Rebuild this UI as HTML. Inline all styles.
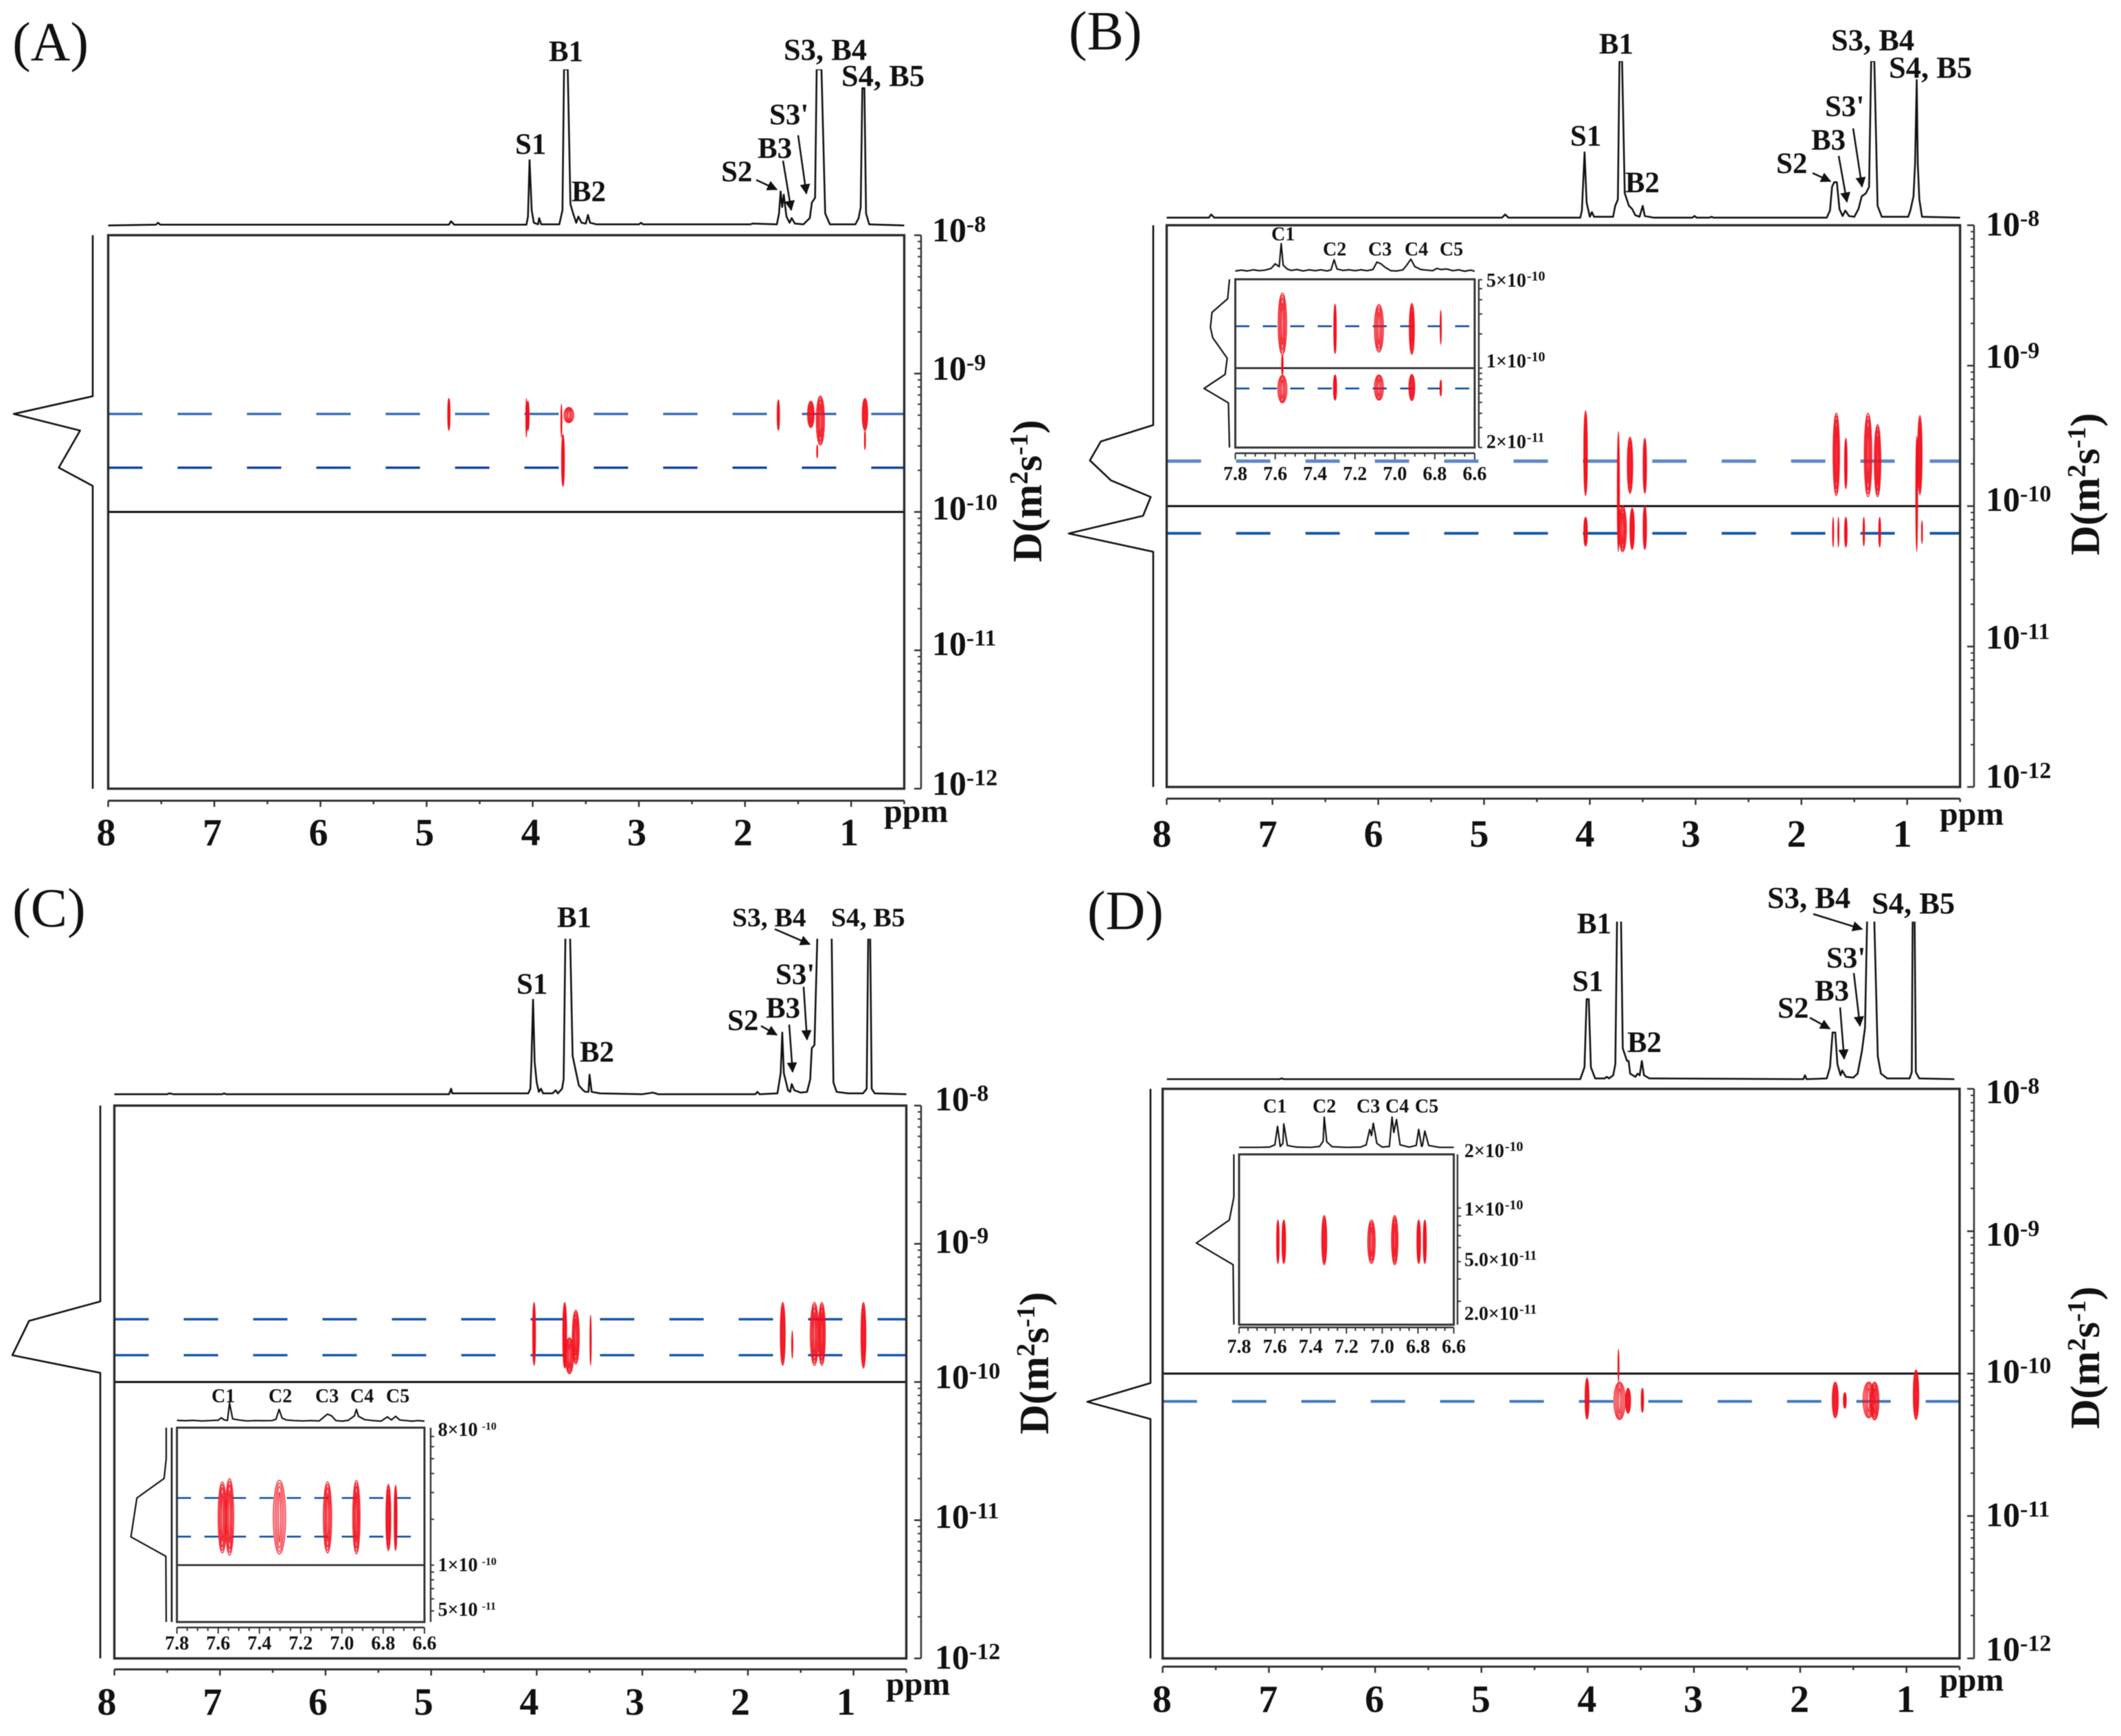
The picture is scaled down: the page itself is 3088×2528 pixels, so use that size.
<!DOCTYPE html>
<html lang="en">
<head>
<meta charset="utf-8">
<title>DOSY NMR spectra panels A-D</title>
<style>
html,body{margin:0;padding:0;background:#fff;width:3088px;height:2528px;overflow:hidden}
svg{display:block;filter:blur(.6px)}
text{font-family:"Liberation Serif",serif;fill:#111}
.pk{font-weight:bold;font-size:43px}
.pw{font-weight:bold;font-size:44.5px}
.pn{font-size:80px}
.ar{stroke:#111;stroke-width:2.5;fill:none;marker-end:url(#arrowhead)}
</style>
</head>
<body>
<svg id="chart" xmlns="http://www.w3.org/2000/svg" width="3088" height="2528" viewBox="0 0 3088 2528">
<defs>
<marker id="arrowhead" markerWidth="7" markerHeight="7" refX="5.5" refY="3" orient="auto" markerUnits="strokeWidth"><path d="M0,0 L6,3 L0,6 Z" fill="#111"/></marker>
</defs>
<rect width="3088" height="2528" fill="#fff"/>

<g>
<text class="pn" x="18" y="88">(A)</text>
<text class="pk" x="750" y="224">S1</text>
<text class="pk" x="799" y="89">B1</text>
<text class="pk" x="832" y="293">B2</text>
<text class="pk" x="1050" y="264">S2</text>
<text class="pk" x="1103" y="230">B3</text>
<text class="pk" x="1120" y="181">S3'</text>
<text class="pw" x="1141" y="87">S3, B4</text>
<text class="pw" x="1225" y="125">S4, B5</text>
<line class="ar" x1="1101" y1="262" x2="1131" y2="276"/>
<line class="ar" x1="1140" y1="234" x2="1152" y2="306"/>
<line class="ar" x1="1162" y1="197" x2="1174" y2="282"/>
</g>

<g>
<text class="pn" x="1556" y="72">(B)</text>
<text class="pk" x="2286" y="212">S1</text>
<text class="pk" x="2328" y="78">B1</text>
<text class="pk" x="2366" y="280">B2</text>
<text class="pk" x="2586" y="252">S2</text>
<text class="pk" x="2637" y="218">B3</text>
<text class="pk" x="2657" y="169">S3'</text>
<text class="pw" x="2666" y="73">S3, B4</text>
<text class="pw" x="2750" y="113">S4, B5</text>
<line class="ar" x1="2639" y1="252" x2="2665" y2="264"/>
<line class="ar" x1="2677" y1="227" x2="2689" y2="294"/>
<line class="ar" x1="2698" y1="187" x2="2711" y2="272"/>
<text class="pk" style="font-size:28px" x="1851" y="350">C1</text>
<text class="pk" style="font-size:28px" x="1926" y="372">C2</text>
<text class="pk" style="font-size:28px" x="1992" y="372">C3</text>
<text class="pk" style="font-size:28px" x="2045" y="372">C4</text>
<text class="pk" style="font-size:28px" x="2096" y="372">C5</text>
</g>

<g>
<text class="pn" x="18" y="1349">(C)</text>
<text class="pk" x="752" y="1447">S1</text>
<text class="pk" x="811" y="1350">B1</text>
<text class="pk" x="844" y="1546">B2</text>
<text class="pk" x="1059" y="1500">S2</text>
<text class="pk" x="1115" y="1482">B3</text>
<text class="pk" x="1129" y="1433">S3'</text>
<text class="pk" style="font-size:39.5px" x="1066" y="1349">S3, B4</text>
<text class="pk" style="font-size:39.5px" x="1210" y="1349">S4, B5</text>
<line class="ar" x1="1108" y1="1494" x2="1131" y2="1507"/>
<line class="ar" x1="1149" y1="1492" x2="1154" y2="1561"/>
<line class="ar" x1="1170" y1="1437" x2="1175" y2="1514"/>
<line class="ar" x1="1128" y1="1353" x2="1179" y2="1375"/>
<text class="pk" style="font-size:28px" x="308" y="2042">C1</text>
<text class="pk" style="font-size:28px" x="391" y="2042">C2</text>
<text class="pk" style="font-size:28px" x="459" y="2042">C3</text>
<text class="pk" style="font-size:28px" x="510" y="2042">C4</text>
<text class="pk" style="font-size:28px" x="562" y="2042">C5</text>
</g>

<g>
<text class="pn" x="1583" y="1353">(D)</text>
<text class="pk" x="2289" y="1443">S1</text>
<text class="pk" x="2296" y="1359">B1</text>
<text class="pk" x="2369" y="1532">B2</text>
<text class="pk" x="2588" y="1482">S2</text>
<text class="pk" x="2642" y="1457">B3</text>
<text class="pk" x="2659" y="1409">S3'</text>
<text class="pw" x="2573" y="1322">S3, B4</text>
<text class="pw" x="2725" y="1330">S4, B5</text>
<line class="ar" x1="2635" y1="1482" x2="2664" y2="1498"/>
<line class="ar" x1="2679" y1="1467" x2="2685" y2="1542"/>
<line class="ar" x1="2699" y1="1417" x2="2708" y2="1494"/>
<line class="ar" x1="2640" y1="1331" x2="2711" y2="1353"/>
<text class="pk" style="font-size:28px" x="1839" y="1620">C1</text>
<text class="pk" style="font-size:28px" x="1911" y="1620">C2</text>
<text class="pk" style="font-size:28px" x="1975" y="1620">C3</text>
<text class="pk" style="font-size:28px" x="2017" y="1620">C4</text>
<text class="pk" style="font-size:28px" x="2060" y="1620">C5</text>
</g>
</svg>

<script>
/* Shared axis data */
const ppmTickLabels = [8, 7, 6, 5, 4, 3, 2, 1];
const diffusionExponents = [-8, -9, -10, -11, -12];
const insetPpmLabels = [7.8, 7.6, 7.4, 7.2, 7.0, 6.8, 6.6];

/* 1D spectra: [ppm, relative intensity] */
const spectrumA = [[8,.3],[7.55,.8],[7.53,2],[7.51,.8],[4.79,.8],[4.77,3],[4.74,.8],[4.06,.8],[4.045,6],[4.03,42],[4.01,10],[3.99,2],[3.95,1],[3.94,5],[3.92,1],[3.75,1],[3.72,10],[3.705,100],[3.67,100],[3.645,14],[3.62,8],[3.59,2],[3.57,6],[3.54,2],[3.5,1.5],[3.48,7],[3.46,2],[3.4,1],[3,1],[2.98,2],[2.96,1],[1.95,1],[1.93,1.5],[1.7,1],[1.68,8],[1.665,22],[1.65,12],[1.635,20],[1.61,6],[1.58,2],[1.56,5],[1.53,1.5],[1.45,1],[1.39,5],[1.37,15],[1.34,18],[1.325,100],[1.28,100],[1.245,8],[1.2,1],[.96,1],[.93,5],[.91,12],[.895,88],[.875,88],[.86,8],[.83,1],[.5,.3]];
const spectrumB = [[8,.5],[7.6,.5],[7.58,2.5],[7.55,.5],[4.83,.5],[4.8,2.5],[4.77,.5],[4.09,.5],[4.075,5],[4.05,42],[4.03,10],[4,1],[3.98,4],[3.96,1],[3.78,1],[3.76,8],[3.735,12],[3.72,100],[3.695,100],[3.67,16],[3.63,8],[3.6,6],[3.57,2],[3.53,1],[3.5,8],[3.48,1.5],[3.4,.5],[3.03,.5],[3.01,1.5],[2.99,.5],[2.87,.5],[2.85,1],[2.83,.5],[1.76,.5],[1.73,5],[1.71,20],[1.69,23],[1.665,23],[1.64,6],[1.61,1.5],[1.585,5],[1.55,1.5],[1.5,1],[1.46,6],[1.43,14],[1.39,16],[1.36,20],[1.34,100],[1.31,100],[1.28,8],[1.24,1],[.99,1],[.97,5],[.94,14],[.925,35],[.91,88],[.9,35],[.885,12],[.86,1],[.5,.5]];
const spectrumC = [[8,.5],[7.5,.5],[7.48,1],[7.44,.5],[6.98,.5],[6.96,1],[6.94,.5],[4.83,.5],[4.81,4],[4.8,1],[4.08,1],[4.06,4],[4.05,21],[4.035,61],[4.02,21],[4,8],[3.98,2],[3.96,4],[3.94,1],[3.85,1],[3.82,3],[3.8,1],[3.76,4],[3.745,10],[3.725,120],[3.69,120],[3.66,25],[3.62,12],[3.6,6],[3.56,3],[3.54,2],[3.51,2],[3.5,13],[3.48,2],[3.4,1],[3,.5],[2.9,1.5],[2.85,.5],[1.93,.5],[1.91,2],[1.89,.5],[1.72,1],[1.69,14],[1.675,40],[1.66,14],[1.62,3],[1.6,2],[1.585,7],[1.56,3],[1.5,1.5],[1.44,2],[1.41,10],[1.395,30],[1.37,32],[1.335,120],[1.27,140],[1.21,120],[1.19,8],[1.16,2],[1.05,1],[.91,1],[.875,4],[.858,120],[.845,120],[.828,4],[.8,1],[.5,.5]];
const spectrumD = [[7.96,.5],[6.9,.5],[6.88,1],[6.86,.5],[4.07,.5],[4.03,8],[4.01,51],[3.99,51],[3.97,8],[3.93,1],[3.84,1],[3.82,2],[3.8,1],[3.76,3],[3.74,10],[3.72,120],[3.705,140],[3.69,120],[3.67,20],[3.63,12],[3.615,12],[3.6,4],[3.55,2],[3.53,4],[3.51,3],[3.49,12],[3.47,3],[3.42,1],[1.97,.5],[1.955,3],[1.94,.5],[1.75,1],[1.72,8],[1.695,30],[1.67,30],[1.65,10],[1.62,3],[1.605,6],[1.57,2],[1.5,1.5],[1.46,4],[1.42,18],[1.39,33],[1.365,120],[1.335,140],[1.31,120],[1.27,15],[1.24,4],[1.18,1],[.97,1],[.95,5],[.94,120],[.925,120],[.912,5],[.88,1],[.55,.5]];

/* Diffusion projections: [log10 D, relative intensity] */
const projectionA = [[-8,0],[-9.164,0],[-9.292,100],[-9.412,16],[-9.68,43],[-9.812,0],[-12,0]];
const projectionB = [[-8,0],[-9.423,0],[-9.54,62],[-9.675,75],[-9.817,50],[-9.935,3],[-10.069,12],[-10.195,100],[-10.325,0],[-12,0]];
const projectionC = [[-8,0],[-9.417,0],[-9.558,81],[-9.806,100],[-9.934,0],[-12,0]];
const projectionD = [[-8,0],[-10.066,0],[-10.198,100],[-10.319,0],[-12,0]];

/* Dashed guide lines: log10 D */
const guidesA = [-9.292, -9.68];
const guidesB = [-9.68, -10.194];
const guidesC = [-9.546, -9.806];
const guidesD = [-10.195];

/* Cross peaks: [ppm, log10 D upper, log10 D lower, width in ppm] */
const peaksA = [[4.79,-9.179,-9.41,.03],[4.06,-9.18,-9.46,.016],[4.045,-9.2,-9.41,.03],[3.73,-9.22,-9.46,.012],[3.66,-9.245,-9.355,.1],[3.715,-9.44,-9.815,.035],[1.686,-9.19,-9.41,.03],[1.38,-9.2,-9.39,.07],[1.29,-9.162,-9.517,.085],[1.32,-9.517,-9.61,.012],[.87,-9.18,-9.41,.06],[.87,-9.41,-9.55,.012]];
const peaksB = [[4.04,-9.322,-9.925,.042],[4.04,-10.08,-10.284,.042],[3.73,-9.469,-10.324,.028],[3.69,-9.998,-10.324,.08],[3.62,-9.509,-9.909,.06],[3.6,-10.015,-10.308,.05],[3.48,-9.517,-9.909,.04],[3.48,-9.998,-10.308,.04],[1.67,-9.338,-9.925,.07],[1.58,-9.517,-9.876,.032],[1.37,-9.338,-9.933,.08],[1.28,-9.42,-9.933,.07],[.88,-9.355,-9.917,.05],[.91,-9.501,-10.324,.025],[1.7,-10.08,-10.292,.012],[1.65,-10.08,-10.292,.012],[1.58,-10.08,-10.292,.032],[1.41,-10.08,-10.284,.022],[1.26,-10.08,-10.292,.026],[.86,-10.104,-10.267,.01]];
const peaksC = [[4.025,-9.425,-9.879,.035],[3.735,-9.425,-9.9,.045],[3.69,-9.68,-9.94,.085],[3.63,-9.48,-9.87,.075],[3.49,-9.516,-9.88,.02],[1.67,-9.425,-9.879,.055],[1.58,-9.63,-9.83,.015],[1.37,-9.425,-9.879,.087],[1.3,-9.425,-9.879,.075],[.906,-9.425,-9.9,.055]];
const peaksD = [[4.006,-10.031,-10.32,.045],[3.71,-9.83,-10.06,.012],[3.7,-10.06,-10.322,.115],[3.62,-10.103,-10.278,.057],[3.485,-10.103,-10.272,.03],[1.67,-10.06,-10.31,.065],[1.58,-10.134,-10.243,.035],[1.355,-10.06,-10.31,.115],[1.3,-10.06,-10.325,.09],[.91,-9.974,-10.322,.06]];

/* Inset data */
const insetSpectrumB = [[7.8,5],[7.77,8],[7.74,5],[7.71,9],[7.68,6],[7.65,8],[7.62,14],[7.6,30],[7.58,20],[7.57,100],[7.56,25],[7.54,12],[7.52,7],[7.49,10],[7.46,5],[7.43,9],[7.4,6],[7.37,9],[7.34,5],[7.32,9],[7.305,44],[7.29,12],[7.26,7],[7.23,9],[7.2,6],[7.17,9],[7.14,6],[7.11,10],[7.09,36],[7.07,30],[7.05,18],[7.02,6],[6.99,5],[6.96,9],[6.94,26],[6.92,46],[6.9,20],[6.87,10],[6.84,8],[6.81,6],[6.79,14],[6.77,10],[6.74,12],[6.71,6],[6.68,9],[6.65,4],[6.62,8],[6.6,4]];
const insetSpectrumC = [[7.8,6],[7.76,4],[7.72,6],[7.68,3],[7.64,5],[7.6,7],[7.585,20],[7.57,8],[7.555,6],[7.545,100],[7.53,14],[7.5,8],[7.46,3],[7.42,5],[7.38,4],[7.34,5],[7.32,12],[7.305,65],[7.29,18],[7.27,8],[7.23,5],[7.19,3],[7.15,5],[7.11,3],[7.09,22],[7.07,40],[7.05,30],[7.03,5],[7,2],[6.97,6],[6.94,30],[6.93,65],[6.92,28],[6.89,10],[6.85,5],[6.81,2],[6.78,25],[6.76,8],[6.74,28],[6.72,8],[6.69,5],[6.66,2],[6.63,5],[6.6,2]];
const insetSpectrumD = [[7.8,2],[7.7,2],[7.63,3],[7.6,10],[7.585,70],[7.57,5],[7.555,15],[7.55,78],[7.53,8],[7.48,3],[7.4,2],[7.35,5],[7.33,22],[7.324,100],[7.31,20],[7.28,4],[7.2,2],[7.12,3],[7.09,10],[7.07,60],[7.06,40],[7.05,80],[7.03,15],[7,3],[6.96,5],[6.945,100],[6.935,50],[6.92,92],[6.9,10],[6.85,3],[6.81,8],[6.796,60],[6.78,5],[6.775,8],[6.762,55],[6.74,8],[6.68,2],[6.6,2]];
const insetProjectionB = [[-9.218,0],[-9.389,7],[-9.51,69],[-9.641,75],[-9.732,66],[-9.913,9],[-10.055,17],[-10.179,100],[-10.306,4],[-10.699,0]];
const insetProjectionC = [[-9.097,0],[-9.3,0],[-9.431,6],[-9.559,83],[-9.815,100],[-9.942,1],[-10.374,0]];
const insetProjectionD = [[-9.699,0],[-9.939,0],[-10.067,12],[-10.196,100],[-10.318,2],[-10.654,0]];
const insetGuidesB = [-9.631, -10.179];
const insetGuidesC = [-9.559, -9.813];
const insetPeaksB = [[7.564,-9.339,-9.883,.047],[7.564,-9.883,-10.064,.012],[7.564,-10.064,-10.306,.05],[7.3,-9.436,-9.873,.017],[7.3,-10.06,-10.282,.02],[7.08,-9.44,-9.859,.05],[7.08,-10.06,-10.282,.05],[6.915,-9.43,-9.879,.03],[6.915,-10.055,-10.286,.034],[6.77,-9.49,-9.792,.01],[6.77,-10.105,-10.246,.012]];
const insetPeaksC = [[7.58,-9.453,-9.92,.045],[7.545,-9.431,-9.935,.045],[7.303,-9.443,-9.927,.064],[7.07,-9.453,-9.92,.045],[6.93,-9.443,-9.927,.04],[6.775,-9.469,-9.905,.028],[6.74,-9.476,-9.905,.018]];
const insetPeaksD = [[7.583,-10.067,-10.311,.019],[7.55,-10.067,-10.311,.025],[7.324,-10.042,-10.318,.033],[7.06,-10.067,-10.311,.047],[6.93,-10.042,-10.318,.041],[6.796,-10.067,-10.311,.025],[6.762,-10.067,-10.311,.022]];
const insetTickTextB = ['5×10', '1×10', '2×10'];
const insetTickExpB = ['-10', '-10', '-11'];
const insetTickLogB = [-9.23, -9.94, -10.65];
const insetTickTextC = ['8×10', '1×10', '5×10'];
const insetTickExpC = ['-10', '-10', '-11'];
const insetTickLogC = [-9.11, -10, -10.293];
const insetTickTextD = ['2×10', '1×10', '5.0×10', '2.0×10'];
const insetTickExpD = ['-10', '-10', '-11', '-11'];
const insetTickLogD = [-9.68, -10.007, -10.29, -10.592];

/* Layout (pixels) kept apart from the data */
const layouts = [
  {id:'a', L:157.5, R:1316.5, T:342.5, B:1148.5, specBase:329, specTop:101, axisY:1166, labelY:1231, labelDx:-3, rightX:1341, rightLabelX:1357, ppmX:1287, ppmY:1197, dX:1516, dY:715, projX:135, projTip:20, labelShift:[0,0,2,-2,0],
   spectrum:spectrumA, projection:projectionA, guides:guidesA, peaks:peaksA, guideStyles:[['#2f6cb8',3.4],['#0a409f',3.4]]},
  {id:'b', L:1698.6, R:2853.7, T:328, B:1146, specBase:318, specTop:89, axisY:1163, labelY:1233, labelDx:-7, rightX:2874, rightLabelX:2891, ppmX:2824, ppmY:1201, dX:3056, dY:705, projX:135+1544, projTip:12+1544, labelShift:[6,-6,-2,-6,-8],
   spectrum:spectrumB, projection:projectionB, guides:guidesB, peaks:peaksB, guideStyles:[['#5b8ac6',5],['#1158ad',4]]},
  {id:'c', L:166.5, R:1319.5, T:1610, B:2415, specBase:1594.5, specTop:1367, axisY:2431, labelY:2497, labelDx:-11, rightX:1341, rightLabelX:1361, ppmX:1290, ppmY:2468, dX:1526, dY:1985, projX:146, projTip:18, labelShift:[-2,4,0,2,6],
   spectrum:spectrumC, projection:projectionC, guides:guidesC, peaks:peaksC, guideStyles:[['#1155aa',3.4],['#1155aa',3.4]]},
  {id:'d', L:1692.7, R:2853, T:1585.6, B:2415, specBase:1572.7, specTop:1342, axisY:2427, labelY:2493, labelDx:-1, rightX:2874, rightLabelX:2891, ppmX:2824, ppmY:2462, dX:3056, dY:1977, projX:131+1544, projTip:39+1544, labelShift:[12,12,4,6,-6],
   spectrum:spectrumD, projection:projectionD, guides:guidesD, peaks:peaksD, guideStyles:[['#3f78bd',4]]}
];
const insets = [
  {id:'b', L:1798.5, R:2147, T:406.7, B:651.7, logTop:-9.218, logBot:-10.699, specBase:396.7, specTop:354.7, axisY:660, labelY:699, rightX:2153, rightLabelX:2164, supFont:20, supDx:1, projX:1790, projTip:1753, solid:true, guideEnd:2147,
   spectrum:insetSpectrumB, projection:insetProjectionB, guides:insetGuidesB, peaks:insetPeaksB, tickText:insetTickTextB, tickExp:insetTickExpB, tickLog:insetTickLogB},
  {id:'c', L:257.6, R:618, T:2079, B:2362, logTop:-9.097, logBot:-10.374, specBase:2070, specTop:2043, axisY:2370, labelY:2402, rightX:627, rightLabelX:637.6, supFont:16, supDx:6, projX:242, projTip:190.6, solid:true, guideEnd:601, frameX:250,
   spectrum:insetSpectrumC, projection:insetProjectionC, guides:insetGuidesC, peaks:insetPeaksC, tickText:insetTickTextC, tickExp:insetTickExpC, tickLog:insetTickLogC},
  {id:'d', L:1804, R:2116.6, T:1681, B:1929, logTop:-9.699, logBot:-10.654, specBase:1671.7, specTop:1626.7, axisY:1933, labelY:1970, rightX:2122, rightLabelX:2132, supFont:20, supDx:1, projX:1796.4, projTip:1741.8, solid:false, guideEnd:2116,
   spectrum:insetSpectrumD, projection:insetProjectionD, guides:[], peaks:insetPeaksD, tickText:insetTickTextD, tickExp:insetTickExpD, tickLog:insetTickLogD}
];
const ringFractions = [1, .72, .45, .18];

const NS = 'http://www.w3.org/2000/svg';
const root = document.getElementById('chart');

function make(tag, parent, attrs, name) {
  const el = document.createElementNS(NS, tag);
  for (const k in attrs) el.setAttribute(k, attrs[k]);
  
  
  parent.appendChild(el);
  return el;
}
function drawLine(parent, x1, y1, x2, y2, color, width, name, dash) {
  const a = {x1:x1, y1:y1, x2:x2, y2:y2, stroke:color, 'stroke-width':width};
  if (dash) a['stroke-dasharray'] = dash;
  return make('line', parent, a, name);
}
function drawPolyline(parent, pts, width, name, clipId) {
  const a = {points:pts.map(p => p[0].toFixed(1) + ',' + p[1].toFixed(1)).join(' '), fill:'none', stroke:'#111', 'stroke-width':width, 'stroke-linejoin':'round'};
  if (clipId) a['clip-path'] = 'url(#' + clipId + ')';
  return make('polyline', parent, a, name);
}
function drawPeaks(parent, peaks, xScale, yScale, strokeWidth, name) {
  peaks.forEach(function (pk) {
    const g = make('g', parent, {}, name);
    const cx = xScale(pk[0]);
    const top = yScale(pk[1]);
    const bot = yScale(pk[2]);
    const rx = Math.abs(xScale(pk[0] + pk[3] / 2) - cx);
    ringFractions.forEach(function (f) {
      make('ellipse', g, {cx:cx, cy:(top + bot) / 2, rx:Math.max(.5, (rx - strokeWidth / 2) * f), ry:(bot - top) / 2 * Math.pow(f, .22), fill:'none', stroke:'#f2101c', 'stroke-width':strokeWidth, 'stroke-opacity':.92}, 'contour-ring');
    });
  });
}
function drawSupLabel(parent, x, y, main, sup, size, supSize, raise, supDx, weight, name) {
  const t = make('text', parent, {x:x, y:y, 'font-size':size, 'font-weight':weight}, name);
  t.appendChild(document.createTextNode(main));
  const s = document.createElementNS(NS, 'tspan');
  s.setAttribute('dy', -raise);
  s.setAttribute('dx', supDx);
  s.setAttribute('font-size', supSize);
  s.textContent = sup;
  t.appendChild(s);
  return t;
}

layouts.forEach(function (c) {
  const g = make('g', root, {}, 'panel-' + c.id);
  const x = p => c.L + (8 - p) * (c.R - c.L) / 7.5;
  const y = d => c.T + (-8 - d) * (c.B - c.T) / 4;
  const specY = i => c.specBase - i / 100 * (c.specBase - c.specTop);
  const projX = i => c.projX - i / 100 * (c.projX - c.projTip);

  const clip = make('clipPath', g, {id:'spec-clip-' + c.id}, 'spectrum-clip');
  make('rect', clip, {x:c.L - 5, y:c.specTop, width:c.R - c.L + 10, height:c.specBase - c.specTop + 6}, 'spectrum-clip-area');
  drawPolyline(g, c.spectrum.map(s => [x(s[0]), specY(s[1])]), 2.6, 'proton-spectrum', 'spec-clip-' + c.id);
  drawPolyline(g, c.projection.map(s => [projX(s[1]), y(s[0])]), 2.6, 'diffusion-projection');

  c.guides.forEach(function (d, i) {
    const st = c.guideStyles[i];
    drawLine(g, c.L, y(d), c.R, y(d), st[0], st[1], 'diffusion-guide-line', '50 51');
  });
  drawLine(g, c.L, y(-10), c.R, y(-10), '#111', 3, 'reference-line-1e-10');
  drawPeaks(g, c.peaks, x, y, 1.5, 'cross-peak');
  make('rect', g, {x:c.L, y:c.T, width:c.R - c.L, height:c.B - c.T, fill:'none', stroke:'#2a2a2a', 'stroke-width':3.4}, 'plot-frame');

  /* x axis */
  drawLine(g, c.L, c.axisY, c.R, c.axisY, '#333', 3, 'ppm-axis-line');
  for (let p = 8; p >= .5; p -= .5) {
    const major = Number.isInteger(p);
    drawLine(g, x(p), c.axisY, x(p), c.axisY + (major ? 9 : 5), '#333', 2.5, major ? 'ppm-major-tick' : 'ppm-minor-tick');
  }
  ppmTickLabels.forEach(function (p) {
    const t = make('text', g, {x:x(p) + c.labelDx, y:c.labelY, 'font-size':56, 'font-weight':'bold', 'text-anchor':'middle'}, 'ppm-tick-label');
    t.textContent = String(p);
  });
  const ppm = make('text', g, {x:c.ppmX, y:c.ppmY, 'font-size':48, 'font-weight':'bold'}, 'ppm-axis-title');
  ppm.textContent = 'ppm';

  /* log axis */
  drawLine(g, c.rightX, c.T, c.rightX, c.B, '#333', 2.5, 'diffusion-axis-line');
  diffusionExponents.forEach(function (e, i) {
    drawLine(g, c.rightX - 10, y(e), c.rightX, y(e), '#333', 2.5, 'diffusion-major-tick');
    if (e > -12) {
      for (let m = 2; m <= 9; m++) {
        const d = e - 1 + Math.log10(m);
        drawLine(g, c.rightX - 5, y(d), c.rightX, y(d), '#333', 2, 'diffusion-minor-tick');
      }
    }
    drawSupLabel(g, c.rightLabelX, y(e) + 9 + c.labelShift[i], '10', String(e), 50, 34, 14, 0, 'bold', 'diffusion-tick-label');
  });
  const title = make('text', g, {transform:'translate(' + c.dX + ',' + c.dY + ') rotate(-90)', 'font-size':60, 'font-weight':'bold', 'text-anchor':'middle'}, 'diffusion-axis-title');
  title.appendChild(document.createTextNode('D(m'));
  const s2 = document.createElementNS(NS, 'tspan');
  s2.setAttribute('dy', -20);
  s2.setAttribute('font-size', 38);
  s2.textContent = '2';
  title.appendChild(s2);
  const s3 = document.createElementNS(NS, 'tspan');
  s3.setAttribute('dy', 20);
  s3.textContent = 's';
  title.appendChild(s3);
  const s4 = document.createElementNS(NS, 'tspan');
  s4.setAttribute('dy', -20);
  s4.setAttribute('font-size', 38);
  s4.textContent = '-1';
  title.appendChild(s4);
  const s5 = document.createElementNS(NS, 'tspan');
  s5.setAttribute('dy', 20);
  s5.textContent = ')';
  title.appendChild(s5);
});

insets.forEach(function (c) {
  const g = make('g', root, {}, 'inset-panel-' + c.id);
  const x = p => c.L + (7.8 - p) * (c.R - c.L) / 1.2;
  const y = d => c.T + (c.logTop - d) * (c.B - c.T) / (c.logTop - c.logBot);
  const specY = i => c.specBase - i / 100 * (c.specBase - c.specTop);
  const projX = i => c.projX - i / 100 * (c.projX - c.projTip);

  drawPolyline(g, c.spectrum.map(s => [x(s[0]), specY(s[1])]), 2.2, 'inset-proton-spectrum');
  drawPolyline(g, c.projection.map(s => [projX(s[1]), y(s[0])]), 2.2, 'inset-diffusion-projection');
  if (c.frameX) drawLine(g, c.frameX, c.T, c.frameX, c.B, '#111', 2.5, 'inset-projection-frame');
  c.guides.forEach(function (d) {
    drawLine(g, c.L, y(d), c.guideEnd, y(d), '#0d4ca6', 2.6, 'inset-guide-line', '20.5 19.5');
  });
  if (c.solid) drawLine(g, c.L, y(-10), c.R, y(-10), '#222', 2.6, 'inset-reference-line');
  drawPeaks(g, c.peaks, x, y, 1.4, 'inset-cross-peak');
  make('rect', g, {x:c.L, y:c.T, width:c.R - c.L, height:c.B - c.T, fill:'none', stroke:'#333', 'stroke-width':3}, 'inset-frame');

  drawLine(g, c.L, c.axisY, c.R, c.axisY, '#333', 2.6, 'inset-ppm-axis-line');
  for (let k = 0; k <= 24; k++) {
    const p = 7.8 - k * .05;
    drawLine(g, x(p), c.axisY, x(p), c.axisY + (k % 4 === 0 ? 9 : 5), '#333', 2, 'inset-ppm-tick');
  }
  insetPpmLabels.forEach(function (p) {
    const t = make('text', g, {x:x(p), y:c.labelY, 'font-size':28, 'font-weight':'bold', 'text-anchor':'middle'}, 'inset-ppm-tick-label');
    t.textContent = p.toFixed(1);
  });

  drawLine(g, c.rightX, c.T, c.rightX, c.B, '#333', 2.4, 'inset-diffusion-axis-line');
  for (let e = -9; e >= -11; e--) {
    for (let m = 1; m <= 9; m++) {
      const d = e - 1 + Math.log10(m);
      if (d <= c.logTop && d >= c.logBot) drawLine(g, c.rightX, y(d), c.rightX + 5, y(d), '#333', 2, 'inset-diffusion-tick');
    }
  }
  c.tickText.forEach(function (txt, i) {
    drawSupLabel(g, c.rightLabelX, y(c.tickLog[i]) + 9, txt, c.tickExp[i], 28, c.supFont, 9, c.supDx, 'bold', 'inset-diffusion-tick-label');
  });
});
</script>
</body>
</html>
